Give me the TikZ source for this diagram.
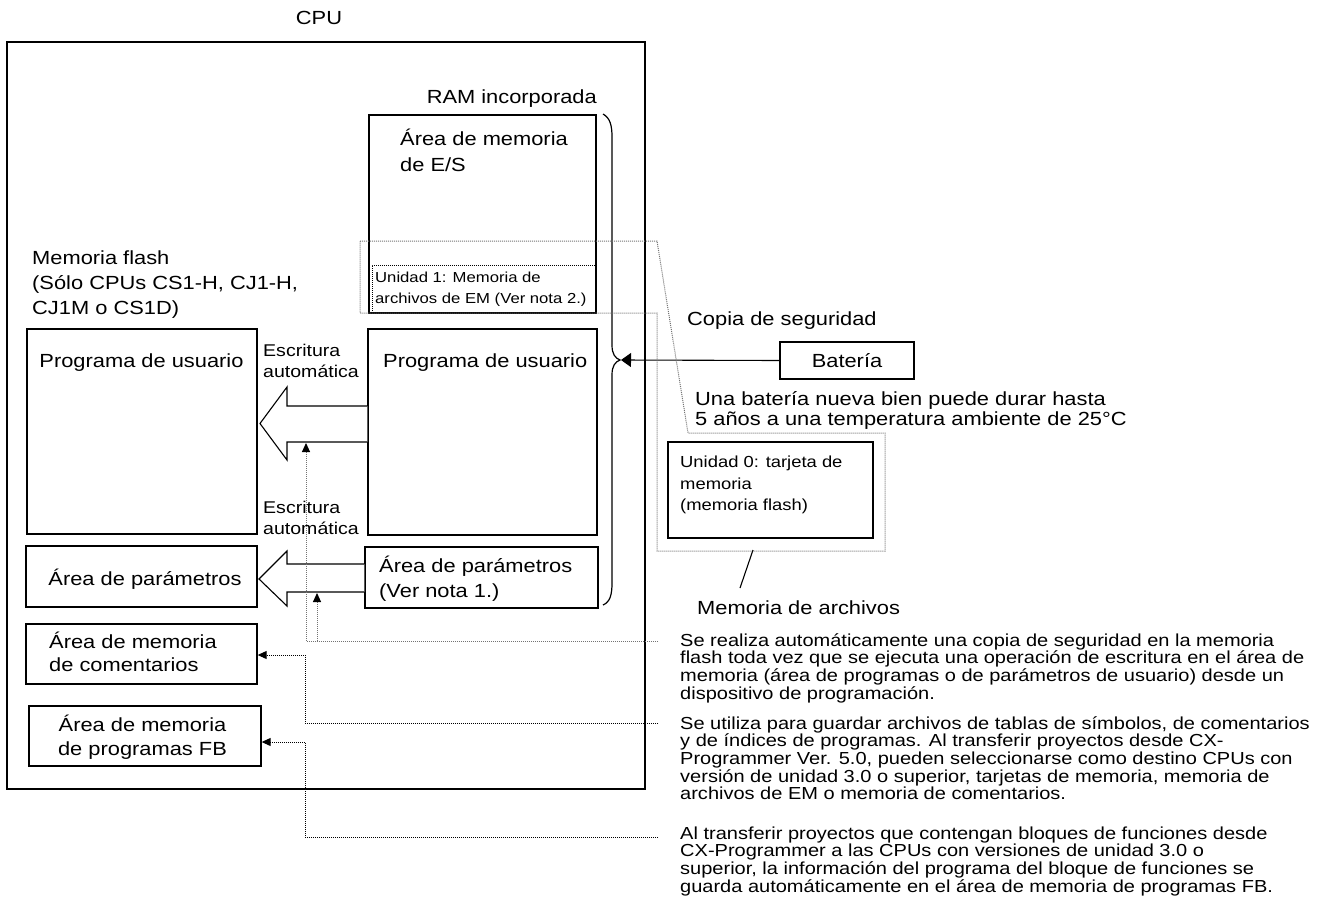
\documentclass[tikz,border=0pt]{standalone}
\usepackage{fontspec}
\setmainfont{Liberation Sans}[FakeStretch=1.15]
\usepackage{tikz}
\usetikzlibrary{arrows.meta,positioning}
\tikzstyle{box}  = [draw,rectangle,line width=1.3pt,inner sep=0pt]
\tikzstyle{lbl}  = [inner sep=0pt,align=left,font=\fontsize{19}{25}\selectfont]
\tikzstyle{note} = [inner sep=0pt,align=left,font=\fontsize{17.4}{17.7}\selectfont]
\tikzstyle{dots} = [line width=1pt,dash pattern=on 1pt off 1pt]
\tikzstyle{hollow} = [draw,fill=white,line width=1.1pt,line join=miter]
\tikzstyle{tip}  = [-{Triangle[length=9pt,width=8pt,color=black]}]

\begin{document}
\begin{tikzpicture}[x=1pt,y=-1pt]
\useasboundingbox (0,0) rectangle (1322,905);

\node[box, line width=1.6pt, minimum width=638pt, minimum height=747pt] (cpu) at (326,415.5) {};
\node[box, minimum width=227pt, minimum height=198pt] (ram) at (482.5,214) {};
\node[box, dots, line width=1pt, minimum width=223pt, minimum height=47pt] (unit1) at (483.5,288.5) {};
\node[box, minimum width=230pt, minimum height=205pt] (progL) at (142,431.5) {};
\node[box, minimum width=229pt, minimum height=206pt] (progR) at (482.5,432) {};
\node[box, minimum width=231pt, minimum height=61pt] (parL) at (141.5,576.5) {};
\node[box, minimum width=233pt, minimum height=61pt] (parR) at (481.5,577.5) {};
\node[box, minimum width=231pt, minimum height=60pt] (cmtL) at (141.5,654) {};
\node[box, minimum width=232pt, minimum height=60pt] (fbL) at (145,736) {};
\node[box, minimum width=134pt, minimum height=37pt] (batt) at (847,360.5) {};
\node[box, minimum width=205pt, minimum height=96pt] (unit0) at (770.5,490) {};

% base = baseline of the last line
\node[lbl, anchor=base] (cpulbl) at (319,24) {CPU};
\node[lbl, anchor=base east] (ramlbl) at (597,103) {RAM incorporada};
\node[lbl, anchor=base west, font=\fontsize{19}{26}\selectfont] (eslbl) at (400,171) {Área de memoria\\de E/S};
\node[lbl, anchor=base west, font=\fontsize{14.5}{21}\selectfont] (unit1lbl) at (375,303) {Unidad 1: Memoria de\\archivos de EM (Ver nota 2.)};
\node[lbl, anchor=base west] (flashlbl) at (32,314) {Memoria flash\\(Sólo CPUs CS1-H, CJ1-H,\\CJ1M o CS1D)};
\node[lbl, anchor=base] (progLlbl) at (141.5,367) {Programa de usuario};
\node[lbl, anchor=base west] (progRlbl) at (383,367) {Programa de usuario};
\node[lbl, anchor=base] (parLlbl) at (145,585) {Área de parámetros};
\node[lbl, anchor=base west] (parRlbl) at (379,597) {Área de parámetros\\(Ver nota 1.)};
\node[lbl, anchor=base west, font=\fontsize{19}{23}\selectfont] (cmtLlbl) at (49,671) {Área de memoria\\de comentarios};
\node[lbl, anchor=base, align=center, font=\fontsize{19}{24}\selectfont] (fbLlbl) at (142.5,755) {Área de memoria\\de programas FB};
\node[lbl, anchor=base west, font=\fontsize{17}{21}\selectfont] (wr1) at (263,377) {Escritura\\automática};
\node[lbl, anchor=base west, font=\fontsize{17}{21}\selectfont] (wr2) at (263,534) {Escritura\\automática};

\node[lbl, anchor=base west] (copia) at (687,325) {Copia de seguridad};
\node[lbl] (battlbl) at (batt) {Batería};
\node[lbl, anchor=base west, font=\fontsize{19}{20}\selectfont] (life) at (695,425) {Una batería nueva bien puede durar hasta\\5 años a una temperatura ambiente de 25°C};
\node[lbl, anchor=base west, font=\fontsize{16}{21.5}\selectfont] (unit0lbl) at (680,510.5) {Unidad 0: tarjeta de\\memoria\\(memoria flash)};
\node[lbl, anchor=base west] (filemem) at (697,614) {Memoria de archivos};

\node[note, anchor=base west] (p1) at (680,699.1) {Se realiza automáticamente una copia de seguridad en la memoria\\flash toda vez que se ejecuta una operación de escritura en el área de\\memoria (área de programas o de parámetros de usuario) desde un\\dispositivo de programación.};
\node[note, anchor=base west] (p2) at (680,799.8) {Se utiliza para guardar archivos de tablas de símbolos, de comentarios\\y de índices de programas. Al transferir proyectos desde CX-\\Programmer Ver. 5.0, pueden seleccionarse como destino CPUs con\\versión de unidad 3.0 o superior, tarjetas de memoria, memoria de\\archivos de EM o memoria de comentarios.};
\node[note, anchor=base west] (p3) at (680,892.1) {Al transferir proyectos que contengan bloques de funciones desde\\CX-Programmer a las CPUs con versiones de unidad 3.0 o\\superior, la información del programa del bloque de funciones se\\guarda automáticamente en el área de memoria de programas FB.};

\coordinate (n1) at (658,641);
\coordinate (n2) at (658,723);
\coordinate (n3) at (658,837);
\coordinate (bracetip) at (621,360);

\draw[hollow] (progR.west |- 0,406) -- (287,406) -- (287,387) -- (260,423.5) -- (287,460) -- (287,442) -- (progR.west |- 0,442);
\draw[hollow] (parR.west |- 0,564) -- (287,564) -- (287,551) -- (259,579) -- (287,606) -- (287,592) -- (parR.west |- 0,592);

\draw[line width=1.2pt] (603,114) .. controls (610,118) and (612,125) .. (612,137) -- (612,345)
  .. controls (612,354) and (615,358) .. (620,360) .. controls (615,362) and (612,366) .. (612,375)
  -- (612,583) .. controls (612,595) and (610,602) .. (603,605);
\draw[line width=1.1pt, -{Triangle[length=10pt,width=14pt]}] (batt.west) -- (bracetip);

\draw[dots, black!55] (360,241) -- (657,241) -- (688,433) -- (885,433) -- (885,551) -- (657,551) -- (657,313) -- (360,313) -- cycle;
\draw[line width=1.1pt] (753,550) -- (740,588);

\draw[dots, black!55, tip] (n1) -- (306,641) -- (306,443);
\draw[dots, black!55, tip] (317,641) -- (317,593);
\draw[dots, tip] (n2) -- (305,723) -- (305,655) -- (cmtL.east |- 0,655);
\draw[dots, tip] (n3) -- (305,837) -- (305,742) -- (fbL.east |- 0,742);

\end{tikzpicture}
\end{document}
